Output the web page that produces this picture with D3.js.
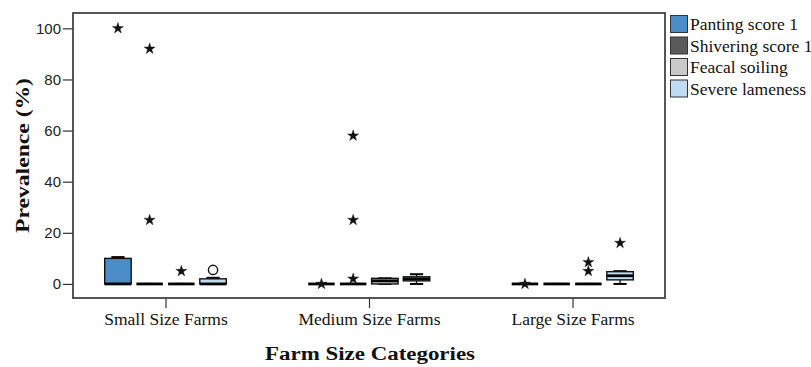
<!DOCTYPE html>
<html>
<head>
<meta charset="utf-8">
<script src="https://cdn.jsdelivr.net/npm/d3@7"></script>
<style>
  html, body { margin: 0; padding: 0; background: #fff; }
  svg { display: block; }
</style>
</head>
<body>
<svg id="chart" width="811" height="367"></svg>
<script>
// Farm size groups and welfare indicators
const categories = ["Small Size Farms", "Medium Size Farms", "Large Size Farms"];
const seriesNames = ["Panting score 1", "Shivering score 1", "Feacal soiling", "Severe lameness"];
const seriesColors = ["#4a8dc9", "#5a5a5a", "#c9c9c9", "#bfdcf0"];
const yTicks = [0, 20, 40, 60, 80, 100];

// Box summaries per farm size: [min, q1, median, q3, max]
const panting   = [[0, 0, 0, 10, 10.5], [0, 0, 0, 0, 0], [0, 0, 0, 0, 0]];
const shivering = [[0, 0, 0, 0, 0],     [0, 0, 0, 0, 0], [0, 0, 0, 0, 0]];
const feacal    = [[0, 0, 0, 0, 0],     [0, 0, 1.2, 2.2, 2.2], [0, 0, 0, 0, 0]];
const lameness  = [[0, 0, 0, 2, 2.4],   [0, 1.2, 2, 2.8, 3.8], [0, 1.6, 3.2, 4.8, 5]];

// Extreme values (stars) per farm size
const pantingExtremes   = [[100], [0], [0]];
const shiveringExtremes = [[92, 25], [58, 25, 2], []];
const feacalExtremes    = [[5], [], [8.5, 5]];
const lamenessExtremes  = [[], [], [16]];

// Mild outliers (circles) per farm size
const lamenessOutliers  = [[5.5], [], []];

const boxes = [panting, shivering, feacal, lameness];
const extremes = [pantingExtremes, shiveringExtremes, feacalExtremes, lamenessExtremes];
const outliers = [[[], [], []], [[], [], []], [[], [], []], lamenessOutliers];

const svg = d3.select("#chart");
const frame = { left: 73, right: 665, top: 13, bottom: 298 };
const serif = "'Liberation Serif', 'Times New Roman', serif";

const x = d3.scalePoint().domain(categories)
  .range([frame.left, frame.right]).padding(0.4545);
const inner = d3.scaleBand().domain(seriesNames)
  .range([-63.4, 63.4]).paddingInner(0.164).paddingOuter(0.082);
const y = d3.scaleLinear().domain([-5.5, 106]).range([frame.bottom, frame.top]);

// Y axis ticks and labels
const yAxis = d3.axisLeft(y).tickValues(yTicks).tickSize(10).tickPadding(2).tickFormat(d3.format("d"));
const gy = svg.append("g").attr("transform", `translate(${frame.left},0)`).call(yAxis);
gy.select(".domain").remove();
gy.selectAll(".tick line").attr("stroke", "#333").attr("stroke-width", 1.2);
gy.selectAll(".tick text").attr("fill", "#222")
  .style("font-family", "'Liberation Sans', Arial, sans-serif").style("font-size", "15px");

// X axis ticks and labels
const xAxis = d3.axisBottom(x).tickSize(10).tickPadding(5);
const gx = svg.append("g").attr("transform", `translate(0,${frame.bottom})`).call(xAxis);
gx.select(".domain").remove();
gx.selectAll(".tick line").attr("stroke", "#333").attr("stroke-width", 1.2);
gx.selectAll(".tick text").attr("fill", "#111")
  .style("font-family", serif).style("font-size", "17.5px");

// Plot frame
svg.append("rect")
  .attr("x", frame.left).attr("y", frame.top)
  .attr("width", frame.right - frame.left).attr("height", frame.bottom - frame.top)
  .attr("fill", "none").attr("stroke", "#444").attr("stroke-width", 1.8);

// Boxplots
const plot = svg.append("g");
seriesNames.forEach((name, si) => {
  categories.forEach((cat, ci) => {
    const [mn, q1, md, q3, mx] = boxes[si][ci];
    const x0 = x(cat) + inner(name);
    const w = inner.bandwidth();
    const cx = x0 + w / 2;
    const g = plot.append("g");
    // whiskers and caps
    g.append("line").attr("x1", cx).attr("x2", cx).attr("y1", y(q3)).attr("y2", y(mx))
      .attr("stroke", "#000").attr("stroke-width", 1.2);
    g.append("line").attr("x1", cx).attr("x2", cx).attr("y1", y(q1)).attr("y2", y(mn))
      .attr("stroke", "#000").attr("stroke-width", 1.2);
    [mn, mx].forEach(v => {
      g.append("line").attr("x1", cx - w / 4).attr("x2", cx + w / 4)
        .attr("y1", y(v)).attr("y2", y(v)).attr("stroke", "#000").attr("stroke-width", 2);
    });
    // box
    g.append("rect").attr("x", x0).attr("y", y(q3))
      .attr("width", w).attr("height", Math.max(0, y(q1) - y(q3)))
      .attr("fill", seriesColors[si]).attr("stroke", "#111").attr("stroke-width", 1.4);
    // median
    g.append("line").attr("x1", x0).attr("x2", x0 + w)
      .attr("y1", y(md)).attr("y2", y(md)).attr("stroke", "#000").attr("stroke-width", 2.8);

    // extremes as stars
    const star = d3.symbol().type(d3.symbolStar).size(38);
    extremes[si][ci].forEach(v => {
      g.append("path").attr("d", star())
        .attr("transform", `translate(${cx},${y(v)})`)
        .attr("fill", "#111").attr("stroke", "#111").attr("stroke-width", 0.4);
    });
    // outliers as open circles
    outliers[si][ci].forEach(v => {
      g.append("circle").attr("cx", cx).attr("cy", y(v)).attr("r", 4.6)
        .attr("fill", "#fff").attr("stroke", "#111").attr("stroke-width", 1.4);
    });
  });
});

// Axis titles
svg.append("text")
  .attr("transform", `translate(29,${(frame.top + frame.bottom) / 2}) rotate(-90)`)
  .attr("text-anchor", "middle")
  .attr("textLength", 155).attr("lengthAdjust", "spacingAndGlyphs")
  .style("font-family", serif)
  .style("font-size", "18px").style("font-weight", "bold").attr("fill", "#111")
  .text("Prevalence (%)");

svg.append("text")
  .attr("x", x(categories[1]) + 1).attr("y", 360)
  .attr("text-anchor", "middle")
  .attr("textLength", 210).attr("lengthAdjust", "spacingAndGlyphs")
  .style("font-family", serif)
  .style("font-size", "18px").style("font-weight", "bold").attr("fill", "#111")
  .text("Farm Size Categories");

// Legend
const legend = svg.append("g").attr("transform", "translate(670,15)");
seriesNames.forEach((name, i) => {
  const row = legend.append("g").attr("transform", `translate(0,${i * 21.5})`);
  row.append("rect").attr("x", 0.5).attr("y", 0.5).attr("width", 17).attr("height", 17)
    .attr("fill", seriesColors[i]).attr("stroke", "#333").attr("stroke-width", 1);
  row.append("text").attr("x", 20).attr("y", 15)
    .style("font-family", serif)
    .style("font-size", "17.5px").attr("fill", "#111")
    .text(name);
});
</script>
</body>
</html>
